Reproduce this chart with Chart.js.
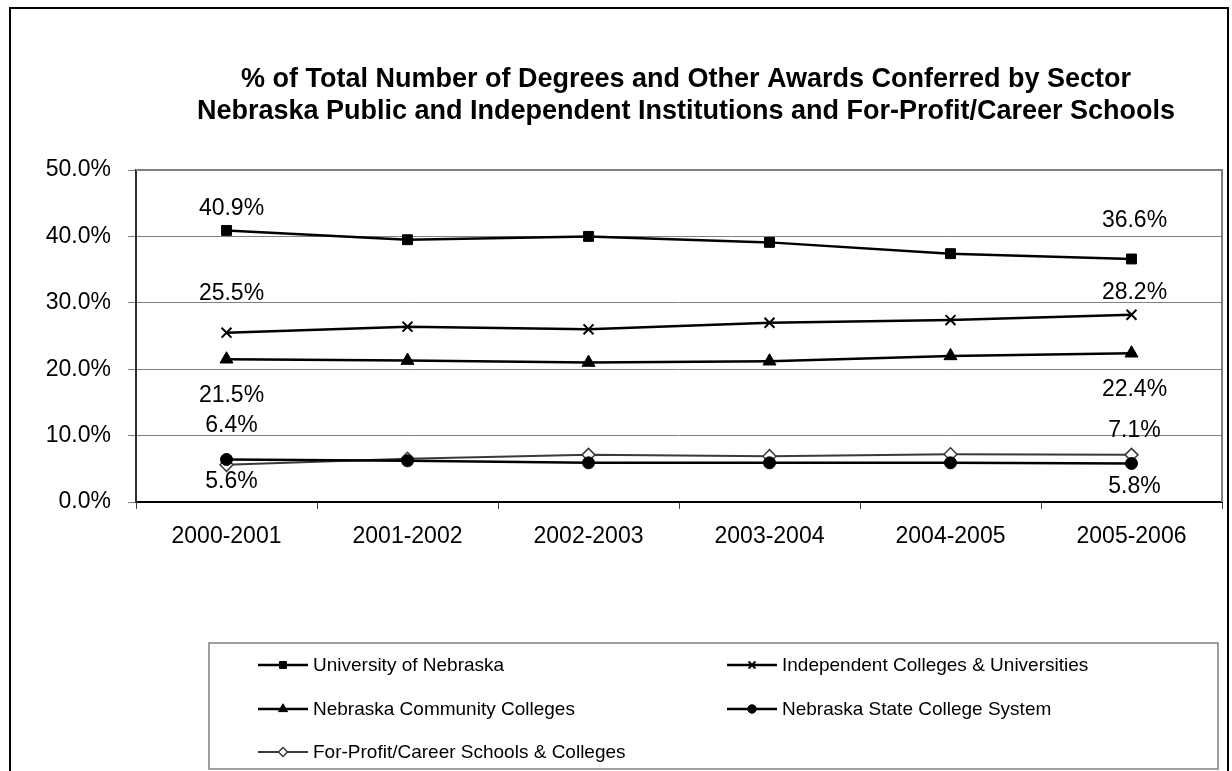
<!DOCTYPE html>
<html>
<head>
<meta charset="utf-8">
<script src="https://cdn.jsdelivr.net/npm/chart.js@4.4.0/dist/chart.umd.min.js"></script>
<style>
  html, body { margin: 0; padding: 0; background: #fff; }
  #wrap { width: 1232px; height: 771px; position: relative; }
</style>
</head>
<body>
<div id="wrap"><canvas id="chart"></canvas></div>
<script>
// Daten
const years = ['2000-2001', '2001-2002', '2002-2003', '2003-2004', '2004-2005', '2005-2006'];
const univNebraska = [40.9, 39.5, 40.0, 39.1, 37.4, 36.6];
const independent  = [25.5, 26.4, 26.0, 27.0, 27.4, 28.2];
const community    = [21.5, 21.3, 21.0, 21.2, 22.0, 22.4];
const stateCollege = [6.4, 6.2, 5.9, 5.9, 5.9, 5.8];
const forProfit    = [5.6, 6.5, 7.1, 6.9, 7.2, 7.1];
const seriesNames = [
  'University of Nebraska',
  'Independent Colleges & Universities',
  'Nebraska Community Colleges',
  'Nebraska State College System',
  'For-Profit/Career Schools & Colleges'
];
const yMin = 0, yMax = 50, yStep = 10;
const titleLines = [
  '% of Total Number of Degrees and Other Awards Conferred by Sector',
  'Nebraska Public and Independent Institutions and For-Profit/Career Schools'
];

const FONT = '"Liberation Sans", Arial, sans-serif';

// Abstand der Beschriftungen (erster / letzter Punkt) je Serie
const labelOffsets = [
  { first: -22, last: -38 },
  { first: -39, last: -22 },
  { first: 36,  last: 36 },
  { first: -34, last: 23 },
  { first: 17,  last: -24 }
];

function makeSet(i, data, style, radius, color, fill) {
  return {
    label: seriesNames[i],
    data: data,
    borderColor: color,
    borderWidth: i === 4 ? 2 : 2.5,
    pointStyle: style,
    pointRadius: radius,
    pointBackgroundColor: fill,
    pointBorderColor: color,
    pointBorderWidth: style === 'crossRot' ? 2 : (i === 4 ? 1.5 : 1),
    tension: 0,
    fill: false
  };
}

const datasets = [
  makeSet(0, univNebraska, 'rect', 7, '#000000', '#000000'),
  makeSet(1, independent, 'crossRot', 7, '#000000', '#000000'),
  makeSet(2, community, 'triangle', 7.5, '#000000', '#000000'),
  makeSet(3, stateCollege, 'circle', 6, '#000000', '#000000'),
  makeSet(4, forProfit, 'rectRot', 6.5, '#3a3a3a', '#ffffff')
];

// Rahmen, Titel, Legende und Datenbeschriftungen
const decorPlugin = {
  id: 'decor',
  beforeDraw(chart) {
    const ctx = chart.ctx;
    ctx.save();
    ctx.fillStyle = '#fff';
    ctx.fillRect(0, 0, chart.width, chart.height);
    ctx.strokeStyle = '#000';
    ctx.lineWidth = 2;
    ctx.strokeRect(10, 8, 1218, 800);
    ctx.fillStyle = '#000';
    ctx.font = 'bold 27px ' + FONT;
    ctx.textAlign = 'center';
    ctx.textBaseline = 'middle';
    ctx.fillText(titleLines[0], 686, 80);
    ctx.fillText(titleLines[1], 686, 112);
    ctx.restore();
  },
  beforeDatasetsDraw(chart) {
    const a = chart.chartArea, ctx = chart.ctx;
    ctx.save();
    ctx.strokeStyle = '#808080';
    ctx.lineWidth = 2;
    ctx.beginPath();
    ctx.moveTo(a.left, a.top);
    ctx.lineTo(a.right, a.top);
    ctx.lineTo(a.right, a.bottom);
    ctx.stroke();
    ctx.restore();
  },
  afterDatasetsDraw(chart) {
    const ctx = chart.ctx;
    ctx.save();
    ctx.fillStyle = '#000';
    ctx.font = '23px ' + FONT;
    ctx.textAlign = 'center';
    ctx.textBaseline = 'middle';
    chart.data.datasets.forEach((ds, i) => {
      const meta = chart.getDatasetMeta(i);
      const last = ds.data.length - 1;
      const p0 = meta.data[0], p1 = meta.data[last];
      ctx.fillText(ds.data[0].toFixed(1) + '%', p0.x + 5, p0.y + labelOffsets[i].first);
      ctx.fillText(ds.data[last].toFixed(1) + '%', p1.x + 3, p1.y + labelOffsets[i].last);
    });
    ctx.restore();
  },
  afterDraw(chart) {
    const ctx = chart.ctx;
    ctx.save();
    // Legendenrahmen
    ctx.strokeStyle = '#808080';
    ctx.lineWidth = 1.5;
    ctx.strokeRect(209, 643, 1009, 126);
    const colX = [258, 727];
    const rowY = [665, 709, 752];
    ctx.font = '19px ' + FONT;
    ctx.textAlign = 'left';
    ctx.textBaseline = 'middle';
    chart.data.datasets.forEach((ds, i) => {
      const x = colX[i % 2], y = rowY[Math.floor(i / 2)];
      ctx.strokeStyle = ds.borderColor;
      ctx.lineWidth = ds.borderWidth;
      ctx.beginPath();
      ctx.moveTo(x, y);
      ctx.lineTo(x + 50, y);
      ctx.stroke();
      ctx.fillStyle = ds.pointBackgroundColor;
      ctx.strokeStyle = ds.pointBorderColor;
      ctx.lineWidth = ds.pointBorderWidth;
      Chart.helpers.drawPoint(ctx, {
        pointStyle: ds.pointStyle,
        radius: ds.pointRadius * 0.7,
        rotation: 0,
        borderWidth: ds.pointBorderWidth
      }, x + 25, y);
      ctx.fillStyle = '#000';
      ctx.fillText(ds.label, x + 55, y + 1);
    });
    ctx.restore();
  }
};

const ctx = document.getElementById('chart');
const config = {
  type: 'line',
  data: { labels: years, datasets: datasets },
  options: {
    responsive: true,
    maintainAspectRatio: false,
    animation: false,
    layout: { padding: { top: 170, right: 10, left: 0, bottom: 0 } },
    plugins: {
      legend: { display: false },
      title: { display: false },
      tooltip: { enabled: false }
    },
    scales: {
      x: {
        offset: true,
        grid: { offset: true, drawOnChartArea: false, drawTicks: true, tickLength: 7, color: '#404040', lineWidth: 1 },
        border: { display: true, color: '#000', width: 2 },
        ticks: { color: '#000', font: { family: FONT, size: 23 }, padding: 14, maxRotation: 0 },
        afterFit(scale) { scale.height = 269; }
      },
      y: {
        min: yMin,
        max: yMax,
        grid: { color: '#808080', lineWidth: 1, tickLength: 8 },
        border: { display: true, color: '#303030', width: 2 },
        ticks: {
          stepSize: yStep,
          color: '#000',
          font: { family: FONT, size: 23 },
          padding: 17,
          callback: v => v.toFixed(1) + '%'
        },
        afterFit(scale) { scale.width = 136; }
      }
    }
  },
  plugins: [decorPlugin]
};
window.degreeChart = new Chart(ctx, config);
</script>
</body>
</html>
